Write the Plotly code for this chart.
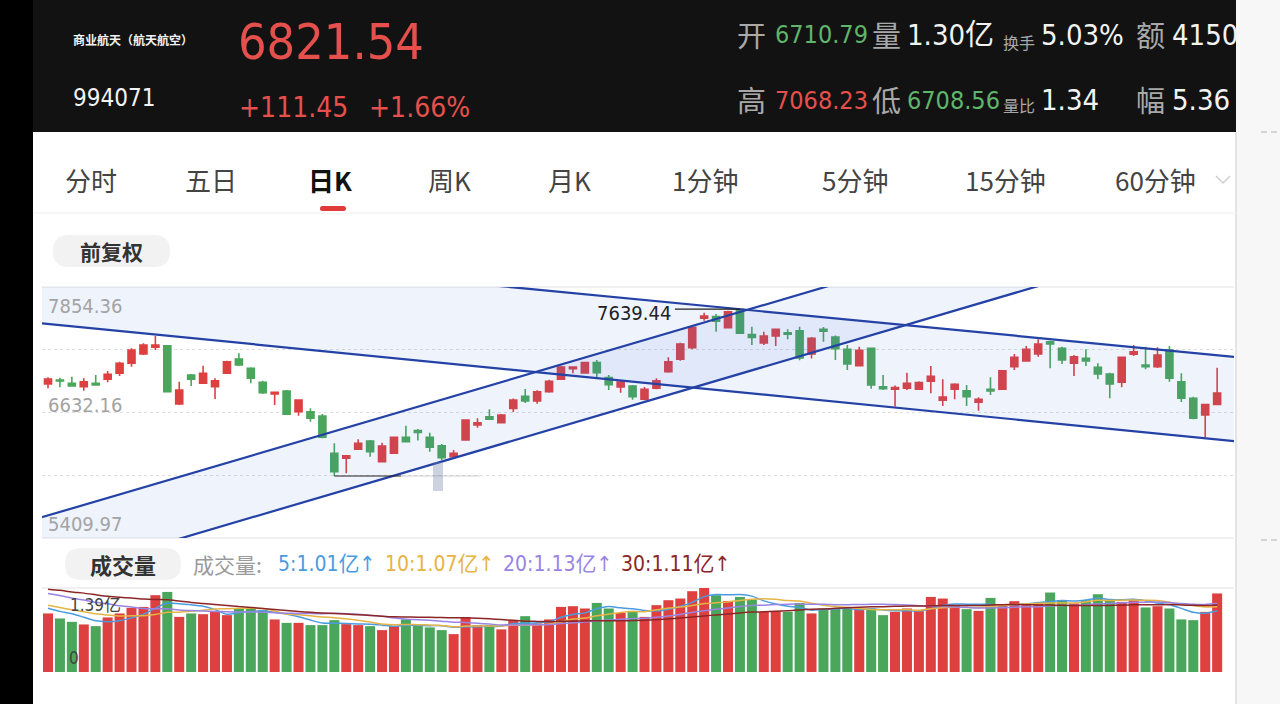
import plotly.graph_objects as go
import pandas as pd

W, H = 1280, 704

# ---------------- data (daily K, index 994071) ----------------
open_ = [6909.7, 6948.6, 6916.5, 6883.4, 6916.5, 6955.4, 7013.9, 7111.3, 7201.9, 7267.1,
         7282.7, 6714.9, 6997.3, 6916.5, 6883.4, 7013.9, 7153.2, 7062.6, 6926.2, 6812.3,
         6841.5, 6639.9, 6639.9, 6598.0, 6234.8, 6186.1, 6273.7, 6354.5, 6152.9, 6234.8,
         6390.6, 6456.8, 6390.6, 6308.8, 6201.7, 6364.3, 6510.4, 6591.3, 6532.8, 6671.1,
         6789.9, 6744.1, 6834.7, 6955.4, 7058.7, 7016.7, 7119.0, 6973.0, 6880.4, 6890.2,
         6761.6, 6867.8, 7029.4, 7150.2, 7263.2, 7549.5, 7567.1, 7457.0, 7637.2, 7391.8,
         7309.0, 7377.2, 7409.3, 7428.7, 7201.9, 7442.4, 7367.4, 7247.6, 7086.9, 7257.4,
         6883.4, 6858.0, 6867.8, 6858.0, 6935.9, 6750.9, 6859.0, 6844.4, 6731.5, 6858.0,
         6858.0, 7078.2, 7133.6, 7201.9, 7321.6, 7257.4, 7111.3, 7159.9, 7072.3, 7007.1,
         6926.2, 7198.9, 7094.7, 7078.2, 7240.8, 6932.1, 6770.4, 6607.8, 6710.79]
high = [6974.9, 6971.0, 6980.8, 6965.2, 6997.3, 7036.3, 7126.9, 7257.4, 7306.0, 7377.2,
        7289.5, 6932.1, 7007.1, 7087.9, 6965.2, 7136.6, 7208.6, 7072.3, 6941.8, 6830.5,
        6851.2, 6760.6, 6673.0, 6617.5, 6332.2, 6213.0, 6371.1, 6364.3, 6338.0, 6396.4,
        6503.5, 6471.4, 6435.4, 6325.4, 6266.9, 6565.8, 6575.6, 6663.3, 6617.5, 6768.5,
        6861.0, 6848.3, 6951.6, 7085.0, 7077.0, 7126.9, 7143.4, 6997.3, 6948.6, 6899.9,
        6880.4, 6965.2, 7169.7, 7311.9, 7467.7, 7604.2, 7591.4, 7623.6, 7639.44, 7467.7,
        7419.0, 7444.0, 7442.4, 7467.7, 7367.4, 7464.7, 7382.0, 7289.5, 7273.0, 7263.2,
        6997.3, 6895.1, 7019.7, 6936.9, 7085.0, 6956.4, 6916.5, 6899.9, 6780.1, 6974.9,
        7046.0, 7201.9, 7279.8, 7345.0, 7331.4, 7273.0, 7192.1, 7247.6, 7111.3, 7019.7,
        7172.0, 7289.5, 7273.0, 7267.1, 7279.8, 7013.9, 6786.0, 6715.0, 7068.23]
low = [6867.8, 6877.5, 6885.3, 6844.4, 6895.1, 6926.2, 6987.6, 7078.2, 7192.1, 7240.8,
       6828.8, 6705.1, 6890.2, 6909.7, 6763.6, 7007.1, 7085.0, 6916.5, 6812.3, 6705.1,
       6607.8, 6600.9, 6542.5, 6380.9, 6013.7, 6040.1, 6266.9, 6201.7, 6147.1, 6228.0,
       6341.8, 6359.4, 6250.3, 6169.6, 6186.1, 6357.5, 6484.1, 6563.0, 6526.9, 6637.0,
       6724.7, 6717.9, 6825.0, 6948.6, 7013.9, 7010.0, 6977.8, 6851.2, 6825.0, 6756.8,
       6750.9, 6858.0, 7019.7, 7136.6, 7247.6, 7526.2, 7419.0, 7452.2, 7396.6, 7289.5,
       7289.5, 7279.8, 7345.0, 7140.5, 7159.0, 7321.6, 7143.4, 7046.0, 7082.1, 6863.9,
       6851.2, 6689.6, 6851.2, 6851.2, 6819.0, 6695.4, 6760.6, 6695.4, 6649.6, 6802.5,
       6851.2, 7046.0, 7126.9, 7175.6, 7062.6, 7104.5, 6987.6, 7085.0, 6955.4, 6770.4,
       6877.5, 7182.4, 7052.8, 7065.0, 6932.1, 6734.5, 6565.8, 6390.6, 6708.56]
close = [6958.4, 6938.9, 6890.2, 6932.1, 6899.9, 7004.1, 7111.3, 7240.8, 7289.5, 7289.5,
         6834.7, 6851.2, 6955.4, 7013.9, 6941.8, 7126.9, 7094.7, 6965.2, 6825.0, 6828.8,
         6614.6, 6753.9, 6575.6, 6390.6, 6055.6, 6211.4, 6332.2, 6250.3, 6305.8, 6390.6,
         6347.7, 6437.3, 6293.2, 6192.0, 6234.8, 6559.1, 6532.8, 6565.8, 6607.8, 6753.9,
         6744.1, 6834.7, 6936.9, 7075.2, 7075.2, 7119.0, 7019.7, 6902.9, 6929.1, 6786.0,
         6858.0, 6941.8, 7126.9, 7299.2, 7461.9, 7571.9, 7521.3, 7613.8, 7403.5, 7362.6,
         7377.2, 7442.4, 7393.7, 7162.9, 7354.8, 7423.8, 7252.4, 7104.5, 7237.8, 6899.9,
         6863.9, 6875.6, 6916.5, 6924.3, 6984.6, 6783.0, 6907.7, 6786.0, 6760.6, 6841.5,
         7039.2, 7169.7, 7247.6, 7299.2, 7299.2, 7143.4, 7175.6, 7133.6, 7007.1, 6909.7,
         7169.7, 7224.3, 7078.2, 7192.1, 6965.2, 6770.4, 6575.6, 6710.09, 6821.54]
# volume in 亿 (1e8)
volume = [0.969, 0.886, 0.830, 0.787, 0.759, 0.903, 0.969, 1.061, 1.077, 1.271,
          1.325, 0.912, 0.969, 0.957, 0.995, 0.941, 1.051, 1.051, 1.023, 0.870,
          0.813, 0.813, 0.776, 0.776, 0.858, 0.792, 0.776, 0.759, 0.693, 0.759,
          0.870, 0.776, 0.738, 0.693, 0.627, 0.903, 0.776, 0.776, 0.705, 0.858,
          0.924, 0.804, 0.870, 1.077, 1.089, 1.051, 1.143, 1.051, 0.978, 1.011,
          0.912, 1.106, 1.188, 1.216, 1.337, 1.390, 1.271, 1.176, 1.242, 1.200,
          0.995, 1.011, 0.995, 1.143, 0.969, 1.051, 1.051, 1.051, 1.035, 1.051,
          0.941, 0.995, 1.051, 1.007, 1.242, 1.216, 1.106, 1.040, 1.011, 1.226,
          1.106, 1.172, 1.106, 1.134, 1.315, 1.188, 1.134, 1.188, 1.287, 1.200,
          1.160, 1.188, 1.068, 1.089, 1.051, 0.870, 0.858, 0.995, 1.300]
# earlier sessions (off-screen), estimated from where the MA lines start at the left edge
vol_before = [1.45, 1.62, 1.38, 1.55, 1.70, 1.48, 1.41, 1.57, 1.52, 1.42,
              1.58, 1.66, 1.44, 1.52, 1.39, 1.61, 1.47, 1.55, 1.36, 1.37,
              1.28, 1.19, 1.10, 1.12, 1.08, 1.15, 1.02, 1.08, 1.06]
ma_periods = [5, 10, 20, 30]
ma_colors = ['#4b9be0', '#e6b445', '#9a84e3', '#8c2626']

y_range = [5409.97, 7854.36]
y_label_vals = [7854.36, 6632.16, 5409.97]
y_label_text = ['7854.36', '6632.16', '5409.97']
grid_vals = [7243.26, 6632.16, 6021.07]

# hand-drawn trend lines (two points each, in index / price)
trend_x = [-1, 101]
desc_upper = [8299.0, 7156.9]
desc_lower = [7506.2, 6335.4]
asc_upper = [5595.4, 9079.7]
asc_lower = [4991.8, 8479.0]

tabs = ['分时', '五日', '日K', '周K', '月K', '1分钟', '5分钟', '15分钟', '60分钟']

# ---------------- styling ----------------
RED = '#de4040'
GREEN = '#4aa65a'
LINE_BLUE = '#2441a5'
FILL = 'rgba(70,115,215,0.085)'
NUM = 'DejaVu Sans Condensed, Noto Sans CJK SC, sans-serif'
CJK = 'Noto Sans CJK SC, sans-serif'

idx = list(range(len(close)))
X0, X1 = 42, 1234           # plot left/right px
x_range = [-0.503, 99.413]

fig = go.Figure()

# channel fills
fig.add_trace(go.Scatter(x=[trend_x[0], trend_x[1], trend_x[1], trend_x[0]],
                         y=[desc_upper[0], desc_upper[1], desc_lower[1], desc_lower[0]],
                         fill='toself', fillcolor=FILL, mode='lines', line=dict(width=0),
                         hoverinfo='skip', xaxis='x', yaxis='y'))
fig.add_trace(go.Scatter(x=[trend_x[0], trend_x[1], trend_x[1], trend_x[0]],
                         y=[asc_upper[0], asc_upper[1], asc_lower[1], asc_lower[0]],
                         fill='toself', fillcolor=FILL, mode='lines', line=dict(width=0),
                         hoverinfo='skip', xaxis='x', yaxis='y'))

fig.add_trace(go.Candlestick(
    x=idx, open=open_, high=high, low=low, close=close,
    increasing=dict(line=dict(color=RED, width=1.6), fillcolor=RED),
    decreasing=dict(line=dict(color=GREEN, width=1.6), fillcolor=GREEN),
    whiskerwidth=0, xaxis='x', yaxis='y', hoverinfo='skip'))

for ln in (desc_upper, desc_lower, asc_upper, asc_lower):
    fig.add_trace(go.Scatter(x=trend_x, y=ln, mode='lines',
                             line=dict(color=LINE_BLUE, width=2.2),
                             hoverinfo='skip', xaxis='x', yaxis='y'))

# max / min markers
imax = high.index(max(high))
imin = low.index(min(low))
fig.add_trace(go.Scatter(x=[imax - 5.45, imax], y=[high[imax]] * 2, mode='lines',
                         line=dict(color='#222', width=1.2), xaxis='x', yaxis='y'))
fig.add_trace(go.Scatter(x=[imin, imin + 5.6], y=[low[imin]] * 2, mode='lines',
                         line=dict(color='#222', width=1.2), xaxis='x', yaxis='y'))
fig.add_trace(go.Scatter(x=[imin + 5.6, imin + 12.2], y=[low[imin]] * 2, mode='lines',
                         line=dict(color='rgba(180,180,190,0.6)', width=1.2), xaxis='x', yaxis='y'))

# volume bars
vcolors = [RED if c >= o else GREEN for o, c in zip(open_, close)]
fig.add_trace(go.Bar(x=idx, y=volume, marker=dict(color=vcolors, line=dict(width=0)),
                     width=0.84, xaxis='x2', yaxis='y2', hoverinfo='skip'))
vol_all = pd.Series(vol_before + volume)
nb = len(vol_before)
for n, col in zip(ma_periods, ma_colors):
    ma = vol_all.rolling(n).mean().iloc[nb:].tolist()
    fig.add_trace(go.Scatter(x=idx, y=ma, mode='lines', line=dict(color=col, width=1.5, shape='spline', smoothing=0.6),
                             xaxis='x2', yaxis='y2', hoverinfo='skip'))

# ---------------- helpers ----------------
def PX(v):
    return v / W


def PY(v):
    return 1 - v / H


def rr(x0, y0, x1, y1, r):
    X = lambda v: f"{v / W:.6f}"
    Y = lambda v: f"{1 - v / H:.6f}"
    return (f"M{X(x0 + r)},{Y(y0)} L{X(x1 - r)},{Y(y0)} Q{X(x1)},{Y(y0)} {X(x1)},{Y(y0 + r)} "
            f"L{X(x1)},{Y(y1 - r)} Q{X(x1)},{Y(y1)} {X(x1 - r)},{Y(y1)} "
            f"L{X(x0 + r)},{Y(y1)} Q{X(x0)},{Y(y1)} {X(x0)},{Y(y1 - r)} "
            f"L{X(x0)},{Y(y0 + r)} Q{X(x0)},{Y(y0)} {X(x0 + r)},{Y(y0)} Z")


def rect(x0, y0, x1, y1, fill, layer='below'):
    return dict(type='rect', xref='paper', yref='paper', x0=PX(x0), x1=PX(x1), y0=PY(y1), y1=PY(y0),
                fillcolor=fill, line=dict(width=0), layer=layer)


def hline(x0, x1, y, color, width=1, dash='solid'):
    return dict(type='line', xref='paper', yref='paper', x0=PX(x0), x1=PX(x1), y0=PY(y), y1=PY(y),
                line=dict(color=color, width=width, dash=dash), layer='below')


def txt(s, x, y, size, color, family=NUM, anchor='left'):
    return dict(text=s, x=PX(x), y=PY(y), xref='paper', yref='paper', xanchor=anchor, yanchor='middle',
                showarrow=False, font=dict(size=size, color=color, family=family))


shapes = [
    rect(0, 0, 33, 704, '#000000'),
    rect(33, 0, 1236, 132, '#121212'),
    rect(1236, 0, 1280, 704, '#f7f7f7'),
    dict(type='line', xref='paper', yref='paper', x0=PX(1236), x1=PX(1236), y0=0, y1=PY(132),
         line=dict(color='#e4e4e4', width=2), layer='below'),
    hline(1261, 1267, 132, '#c8c8c8', 1.5), hline(1271, 1277, 132, '#c8c8c8', 1.5),
    hline(1261, 1267, 540, '#c8c8c8', 1.5), hline(1271, 1277, 540, '#c8c8c8', 1.5),
    hline(33, 1236, 213, '#eeeeee', 1),
    dict(type='path', xref='paper', yref='paper', path=rr(320, 206, 346, 211, 2.5),
         fillcolor='#e03a3a', line=dict(width=0), layer='below'),
    dict(type='path', xref='paper', yref='paper', path=rr(53, 235, 170, 267, 16),
         fillcolor='#f2f2f2', line=dict(width=0), layer='below'),
    dict(type='path', xref='paper', yref='paper', path=rr(65, 548, 181, 580, 16),
         fillcolor='#f2f2f2', line=dict(width=0), layer='below'),
    dict(type='path', xref='paper', yref='paper',
         path=f"M{PX(1216)},{PY(176)} L{PX(1223)},{PY(183)} L{PX(1230)},{PY(176)}",
         line=dict(color='#cfcfcf', width=1.5), layer='below'),
    hline(X0, X1, 287, '#e2e2e2', 1),
    hline(X0, X1, 538, '#e2e2e2', 1),
    hline(X0, X1, 588, '#e2e2e2', 1),
    # blurred low-price label remnant
    dict(type='rect', xref='paper', yref='paper', x0=PX(433), x1=PX(443), y0=PY(491), y1=PY(462),
         fillcolor='rgba(110,125,165,0.35)', line=dict(width=0), layer='above'),
]

GRAY = '#a9a9a9'
WHITE = '#f2f2f2'
HRED = '#e5504d'
HGREEN = '#5fb56a'
ann = [
    txt('<b>商业航天（航天航空）</b>', 71, 40, 12, WHITE, CJK),
    txt('994071', 71, 98, 24, WHITE),
    txt('6821.54', 236, 42, 50, HRED),
    txt('+111.45', 237, 107, 28, HRED),
    txt('+1.66%', 367, 107, 28, HRED),
    txt('开', 735, 34, 29, GRAY, CJK),
    txt('6710.79', 773, 35, 25, HGREEN),
    txt('量', 870, 34, 29, GRAY, CJK),
    txt('1.30亿', 905, 35, 29, WHITE),
    txt('换手', 1001, 42, 16, GRAY, CJK),
    txt('5.03%', 1039, 35, 29, WHITE),
    txt('额', 1134, 34, 29, GRAY, CJK),
    txt('4150', 1170, 35, 29, WHITE),
    txt('高', 735, 99, 29, GRAY, CJK),
    txt('7068.23', 773, 100, 25, HRED),
    txt('低', 870, 99, 29, GRAY, CJK),
    txt('6708.56', 905, 100, 25, HGREEN),
    txt('量比', 1001, 105, 16, GRAY, CJK),
    txt('1.34', 1039, 100, 29, WHITE),
    txt('幅', 1134, 99, 29, GRAY, CJK),
    txt('5.36', 1170, 100, 29, WHITE),
    txt('<b>前复权</b>', 111, 251, 21, '#333333', CJK, 'center'),
    txt('<b>成交量</b>', 123, 564, 22, '#333333', CJK, 'center'),
    txt('成交量:', 191, 564, 21, '#9a9a9a', CJK),
    txt('5:1.01亿↑', 276, 564, 21, ma_colors[0]),
    txt('10:1.07亿↑', 383, 564, 21, ma_colors[1]),
    txt('20:1.13亿↑', 501, 564, 21, ma_colors[2]),
    txt('30:1.11亿↑', 619, 564, 21, ma_colors[3]),
    txt(f'{max(volume):.2f}亿', 68, 605, 17, '#444444'),
    txt('0', 67, 658, 17, '#444444'),
]
tab_x = [65, 185, 308, 428, 548, 672, 822, 965, 1115]
for t, x in zip(tabs, tab_x):
    if t == '日K':
        ann.append(txt(f'<b>{t}</b>', x - 2, 180, 26, '#111111', CJK))
    else:
        ann.append(txt(t, x - 2, 180, 26, '#444444', CJK))

# price axis labels inside plot
for v, s, shift in zip(y_label_vals, y_label_text, [-19, 8, 14]):
    ann.append(dict(text=s, x=PX(46), y=v, xref='paper', yref='y', xanchor='left', yanchor='middle',
                    yshift=shift, showarrow=False, font=dict(size=20, color='#a3a3a3', family=NUM)))
ann.append(dict(text=f'{high[imax]:.2f}', x=imax - 5.6, y=high[imax], xref='x', yref='y',
                xanchor='right', yanchor='middle', yshift=-4, showarrow=False,
                font=dict(size=20, color='#222222', family=NUM)))

fig.update_layout(
    width=W, height=H, margin=dict(l=0, r=0, t=0, b=0),
    paper_bgcolor='white', plot_bgcolor='white', showlegend=False,
    boxgap=0.16,
    xaxis=dict(domain=[PX(X0), PX(X1)], range=x_range, showgrid=False, showticklabels=False,
               zeroline=False, showline=False, ticks='', anchor='y', rangeslider=dict(visible=False),
               fixedrange=True),
    yaxis=dict(domain=[PY(538), PY(287)], range=y_range, tickvals=grid_vals, showticklabels=False,
               showgrid=True, gridcolor='#dedede', griddash='dot', gridwidth=1, zeroline=False,
               showline=False, ticks='', anchor='x', fixedrange=True),
    xaxis2=dict(domain=[PX(X0), PX(X1)], range=x_range, showgrid=False, showticklabels=False,
                zeroline=False, showline=False, ticks='', anchor='y2', fixedrange=True),
    yaxis2=dict(domain=[PY(672), PY(588)], range=[0, max(volume)], showgrid=False, showticklabels=False,
                zeroline=False, showline=False, ticks='', anchor='x2', fixedrange=True),
    bargap=0.16,
    shapes=shapes, annotations=ann,
)

fig.write_html('out.html')
